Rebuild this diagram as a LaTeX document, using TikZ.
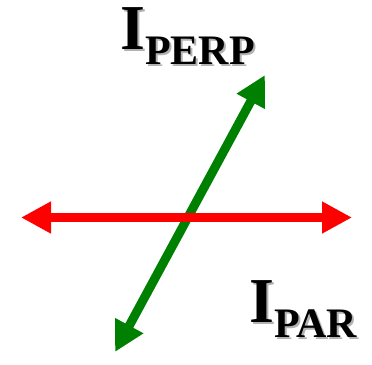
\documentclass[tikz,border=0pt]{standalone}
\usepackage{fontspec}
\setmainfont{Liberation Serif}
\usetikzlibrary{arrows.meta}

\definecolor{perpgreen}{RGB}{0,128,0}
\definecolor{parred}{RGB}{255,0,0}

% Subscripted label with a grey drop shadow behind it
\newcommand{\subtext}[1]{\raisebox{-15pt}{\fontsize{42}{42}\selectfont #1}}
\newcommand{\shadowed}[1]{\rlap{\kern2pt\raisebox{-2pt}{\color{black!30}#1}}#1}

\begin{document}
\begin{tikzpicture}[x=1pt, y=-1pt,
    axisarrow/.style={line width=9pt, {Triangle[length=30pt, width=30pt]}-{Triangle[length=30pt, width=30pt]}},
    lbl/.style={inner sep=0pt, anchor=base west, font=\bfseries\fontsize{64}{64}\selectfont}]
    % Drawing units: 1pt = 1px of the 372 x 364 frame, y pointing down.
    \useasboundingbox (0,0) rectangle (372,364);

    % End points of the two axes
    \coordinate (perpB) at (115,352);
    \coordinate (perpT) at (265,75);
    \coordinate (parL) at (21,217.5);
    \coordinate (parR) at (352,217.5);

    % Perpendicular axis first, the parallel one lies over it
    \draw[axisarrow, perpgreen] (perpB) -- (perpT);
    \draw[axisarrow, parred] (parL) -- (parR);

    % Labels
    \node[lbl] (perp) at (120,49) {\shadowed{I\subtext{PERP}}};
    \node[lbl] (par) at (249,322) {\shadowed{I\subtext{PAR}}};
\end{tikzpicture}
\end{document}
